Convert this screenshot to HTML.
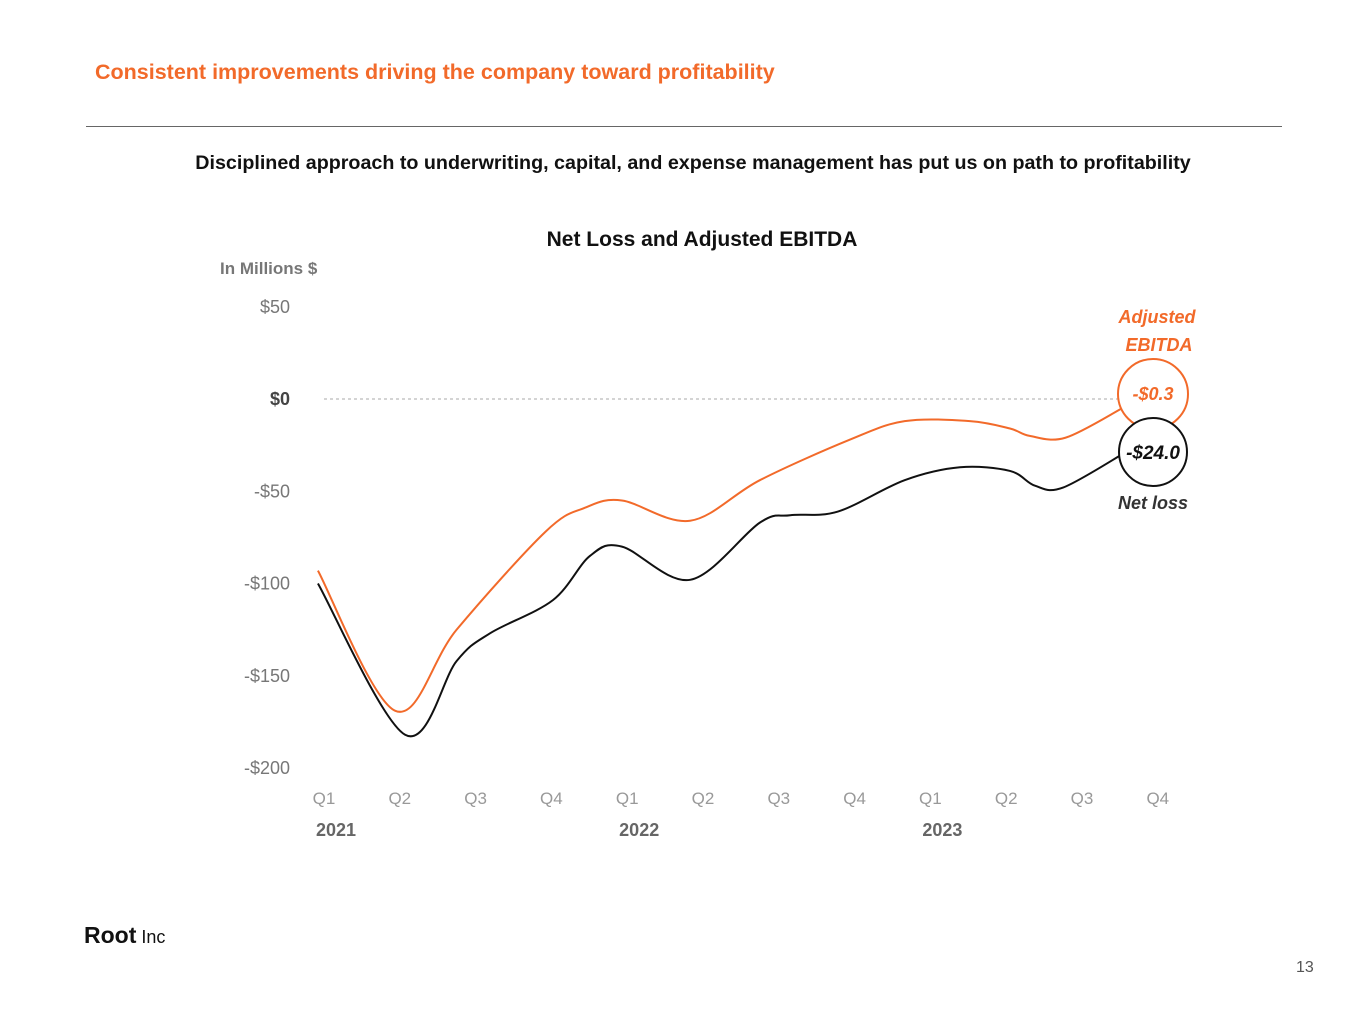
<!DOCTYPE html>
<html><head><meta charset="utf-8"><style>
body{margin:0;width:1365px;height:1024px;background:#fff;font-family:"Liberation Sans",sans-serif;overflow:hidden;position:relative}
.a{position:absolute;white-space:nowrap}
</style></head><body>
<div class="a" style="left:95px;top:60px;font-size:21.5px;font-weight:bold;color:#f26a2a">Consistent improvements driving the company toward profitability</div>
<div class="a" style="left:86px;top:126px;width:1196px;height:1px;background:#666"></div>
<div class="a" style="left:0;width:1386px;text-align:center;top:152px;font-size:19.7px;font-weight:bold;color:#111">Disciplined approach to underwriting, capital, and expense management has put us on path to profitability</div>
<div class="a" style="left:0;width:1404px;text-align:center;top:228px;font-size:21px;font-weight:bold;color:#111">Net Loss and Adjusted EBITDA</div>
<svg class="a" style="left:0;top:0" width="1365" height="1024" id="chart"></svg>
<div class="a" style="left:84px;top:922px;font-size:23px;font-weight:900;color:#111">Root<span style="font-weight:normal;font-size:18px"> Inc</span></div>
<div class="a" style="left:1296px;top:959px;font-size:16px;color:#555">13</div>
<script>
const quarters=["Q1","Q2","Q3","Q4","Q1","Q2","Q3","Q4","Q1","Q2","Q3","Q4"];
const years=["2021","2022","2023"];
const yTicks=[50,0,-50,-100,-150,-200];
const netQ=[-0.08,1.07,1.75,2.19,3.02,3.51,3.93,4.83,5.75,6.15,6.78,7.66,8.39,9.05,9.38,9.75,10.57];
const netV=[-100,-182,-142,-127,-109,-85,-80,-98,-67,-63,-61,-44,-37,-39,-47,-48,-29];
const ebQ=[-0.08,0.94,1.75,2.92,3.44,3.93,4.83,5.75,6.94,7.66,8.52,9.05,9.31,9.78,10.53];
const ebV=[-93,-169,-125,-72,-59,-55,-66,-44,-22,-12,-12,-16,-20,-21,-5];
const svg=document.getElementById('chart');const NS='http://www.w3.org/2000/svg';
const X=q=>324+q*75.8, Y=v=>399-v*1.845;
function mk(t,at,txt){const e=document.createElementNS(NS,t);for(const k in at)e.setAttribute(k,at[k]);if(txt!=null)e.textContent=txt;svg.appendChild(e);return e;}
let e=mk('text',{x:220,y:274,'font-size':17,'font-weight':'bold',fill:'#777'},'In Millions $');


yTicks.forEach(v=>{const t=mk('text',{x:290,y:Y(v)+6,'text-anchor':'end','font-size':18,fill:v===0?'#444':'#777','font-weight':v===0?'bold':'normal'},(v<0?'-':'')+'$'+Math.abs(v));

});
quarters.forEach((q,i)=>{const t=mk('text',{x:X(i),y:804,'text-anchor':'middle','font-size':17,fill:'#999'},q);

});
years.forEach((y,i)=>{const t=mk('text',{x:X(i*4)+12,y:836,'text-anchor':'middle','font-size':18,'font-weight':'bold',fill:'#666'},y);

});
e=mk('line',{x1:324,x2:1120,y1:Y(0),y2:Y(0),stroke:'#aaa','stroke-dasharray':'3,3'});


function path(qs,vs){const p=qs.map((q,i)=>[X(q),Y(vs[i])]);let d='M'+p[0];for(let i=0;i<p.length-1;i++){const p0=p[i-1]||p[i],p1=p[i],p2=p[i+1],p3=p[i+2]||p2;const c1=[p1[0]+(p2[0]-p0[0])/6,p1[1]+(p2[1]-p0[1])/6],c2=[p2[0]-(p3[0]-p1[0])/6,p2[1]-(p3[1]-p1[1])/6];d+='C'+c1+' '+c2+' '+p2;}return d;}
e=mk('path',{d:path(ebQ,ebV),fill:'none',stroke:'#f26a2a','stroke-width':2});


e=mk('path',{d:path(netQ,netV),fill:'none',stroke:'#111','stroke-width':2});


e=mk('circle',{cx:1153,cy:394,r:35,fill:'#fff',stroke:'#f26a2a','stroke-width':2});


e=mk('circle',{cx:1153,cy:452,r:34,fill:'#fff',stroke:'#111','stroke-width':2});


const lab=[[1153,400,'-$0.3','#f26a2a',18,'ebitda-value'],[1153,459,'-$24.0','#111',19,'net-loss-value'],[1157,323,'Adjusted','#f26a2a',18,'ebitda-label'],[1159,351,'EBITDA','#f26a2a',18,'ebitda-label'],[1153,509,'Net loss','#333',18,'net-loss-label']];
lab.forEach(l=>{const t=mk('text',{x:l[0],y:l[1],'text-anchor':'middle','font-size':l[4],'font-weight':'bold','font-style':'italic',fill:l[3]},l[2]);

});
</script>
</body></html>
